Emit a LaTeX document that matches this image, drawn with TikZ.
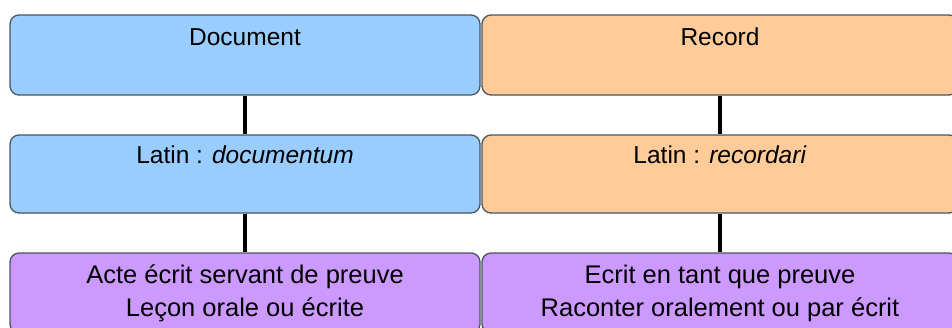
\documentclass[tikz,border=0pt]{standalone}
\usepackage{fontspec}
\setmainfont{Liberation Sans}
\usepackage{tikz}

\definecolor{docblue}{HTML}{99CCFF}
\definecolor{recorange}{HTML}{FFCC99}
\definecolor{senspurple}{HTML}{CC99FF}
\definecolor{boxline}{HTML}{4A5560}

\tikzset{
    cell/.style={draw=boxline, line width=1.3pt, rounded corners=9pt,
        inner sep=0pt, align=center, font=\fontsize{24.5}{33}\selectfont},
    leftcell/.style={cell, minimum width=470pt},
    rightcell/.style={cell, minimum width=476pt},
    senscell/.style={fill=senspurple, minimum height=80pt,
        font=\fontsize{25.5}{33}\selectfont},
    link/.style={line width=3.5pt, black}
}

\begin{document}
\begin{tikzpicture}[x=1pt, y=-1pt]
    \useasboundingbox (0,0) rectangle (952,327);

    % --- Row 1: the two words ---
    \node[leftcell, fill=docblue, text height=30pt, text depth=50pt] (doc) at (245,55) {Document};
    \node[rightcell, fill=recorange, text height=30pt, text depth=50pt] (rec) at (720,55) {Record};

    % --- Row 2: Latin roots ---
    \node[leftcell, fill=docblue, text height=28pt, text depth=50pt] (latdoc) at (245,174) {Latin : \textit{documentum}};
    \node[rightcell, fill=recorange, text height=28pt, text depth=50pt] (latrec) at (720,174) {Latin : \textit{recordari}};

    % --- Row 3: meanings ---
    \node[leftcell, senscell] (sensdoc) at (245,293) {Acte écrit servant de preuve\\Leçon orale ou écrite};
    \node[rightcell, senscell] (sensrec) at (720,293) {Ecrit en tant que preuve\\Raconter oralement ou par écrit};

    % Connectors
    \draw[link] (doc) -- (latdoc);
    \draw[link] (latdoc) -- (sensdoc);
    \draw[link] (rec) -- (latrec);
    \draw[link] (latrec) -- (sensrec);
\end{tikzpicture}
\end{document}
